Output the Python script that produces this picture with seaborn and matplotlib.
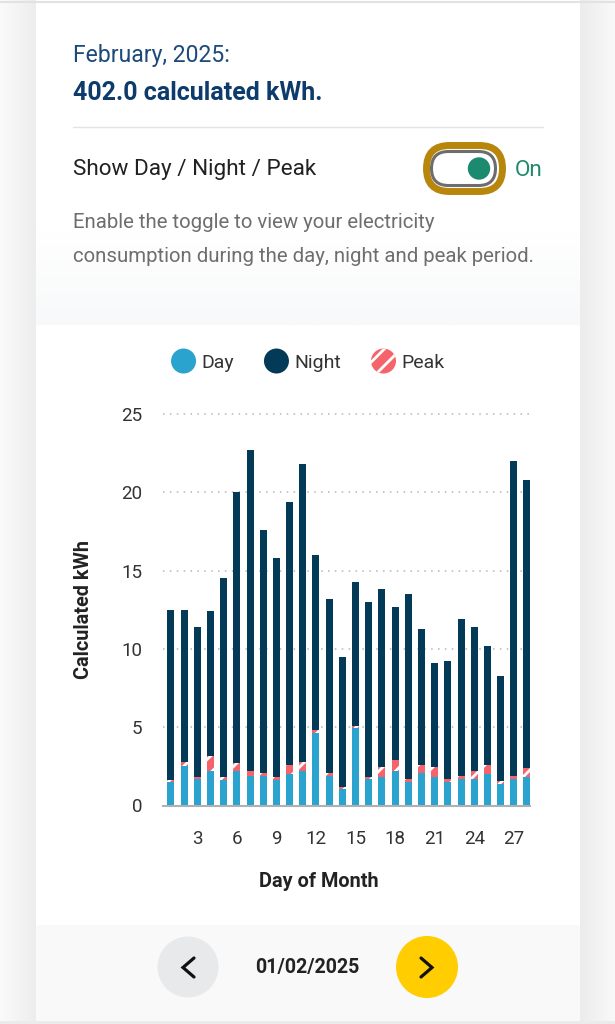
import numpy as np
import pandas as pd
import matplotlib.pyplot as plt
import matplotlib.patches as mpatches
from matplotlib.legend_handler import HandlerPatch
import seaborn as sns

# values (kWh per day, February 2025)
days = list(range(1, 29))
day_kwh = [1.5, 2.55, 1.7, 2.2, 1.6, 2.2, 1.9, 1.9, 1.6, 2.0, 2.2, 4.65, 1.9, 1.05,
           4.95, 1.7, 1.85, 2.2, 1.5, 2.1, 1.85, 1.5, 1.7, 1.7, 2.0, 1.4, 1.7, 1.8]
peak_kwh = [0.15, 0.2, 0.1, 0.95, 0.2, 0.5, 0.3, 0.2, 0.2, 0.6, 0.6, 0.2, 0.2, 0.1,
            0.1, 0.1, 0.6, 0.7, 0.2, 0.5, 0.6, 0.2, 0.2, 0.5, 0.6, 0.15, 0.2, 0.6]
night_kwh = [10.85, 9.75, 9.6, 9.25, 12.7, 17.3, 20.5, 15.5, 14.0, 16.8, 19.0, 11.15, 11.1, 8.35,
             9.25, 11.2, 11.35, 9.8, 11.8, 8.7, 6.65, 7.5, 10.0, 9.2, 7.6, 6.75, 20.1, 18.4]
tick_days = [3, 6, 9, 12, 15, 18, 21, 24, 27]
y_ticks = [0, 5, 10, 15, 20, 25]

DAY_C = '#2aa3cf'
NIGHT_C = '#023a58'
PEAK_C = '#f5636b'

sns.set_style('white')
plt.rcParams['font.family'] = ['Roboto', 'DejaVu Sans']
plt.rcParams['hatch.color'] = 'white'
plt.rcParams['hatch.linewidth'] = 2.0

df = pd.DataFrame({'day': days, 'Day': day_kwh, 'Peak': peak_kwh, 'Night': night_kwh})
df['day_peak'] = df['Day'] + df['Peak']
df['total'] = df['day_peak'] + df['Night']

fig = plt.figure(figsize=(6.15, 10.24), dpi=100, facecolor='white')

# page background drawn in pixel coordinates
bg = fig.add_axes([0, 0, 1, 1], zorder=0)
bg.axis('off')

def hgrad(x0, x1, y0, y1, c0, c1):
    c0 = np.array(plt.matplotlib.colors.to_rgb(c0))
    c1 = np.array(plt.matplotlib.colors.to_rgb(c1))
    t = np.linspace(0, 1, 64)[None, :, None]
    bg.imshow(c0 + (c1 - c0) * t, extent=(x0, x1, y1, y0), aspect='auto', interpolation='bilinear')

def vgrad(x0, x1, y0, y1, c0, c1):
    c0 = np.array(plt.matplotlib.colors.to_rgb(c0))
    c1 = np.array(plt.matplotlib.colors.to_rgb(c1))
    t = np.linspace(0, 1, 64)[:, None, None]
    bg.imshow(c0 + (c1 - c0) * t, extent=(x0, x1, y1, y0), aspect='auto', interpolation='bilinear')

hgrad(0, 36, 0, 1024, '#fbfbfb', '#ededed')
hgrad(580, 615, 0, 1024, '#ececec', '#f9f9f9')
vgrad(36, 580, 230, 325, '#ffffff', '#f8f9fa')
bg.add_patch(mpatches.Rectangle((36, 925), 544, 96, color='#f9f9fa', lw=0))
bg.add_patch(mpatches.Rectangle((0, 1021), 615, 3, color='#ebebeb', lw=0))
bg.plot([0, 615], [1.5, 1.5], color='#e2e2e2', lw=1.5)

# header
bg.text(73, 62, 'February, 2025:', fontsize=16.6, color='#1c4a7b', va='baseline')
bg.text(73, 100.5, '402.0 calculated kWh.', fontsize=18, fontweight='bold',
        color='#0c3b6c', va='baseline')
bg.plot([73, 543], [127, 127], color='#e3e3e3', lw=1)
bg.text(73, 175.5, 'Show Day / Night / Peak', fontsize=16.2, color='#212121', va='baseline')
bg.add_patch(mpatches.FancyBboxPatch((426.5, 145.5), 76, 46, boxstyle='round,pad=0,rounding_size=23',
                                     fc='none', ec='#b8860b', lw=5))
bg.add_patch(mpatches.FancyBboxPatch((431.5, 151.5), 64, 34, boxstyle='round,pad=0,rounding_size=17',
                                     fc='white', ec='#6d6d6d', lw=2.2))
bg.add_patch(mpatches.Circle((479, 168.5), 11.2, color='#1b8a6e', lw=0))
bg.text(515, 175.5, 'On', fontsize=16.2, color='#1e8a6a', va='baseline')
bg.text(73, 227.5, 'Enable the toggle to view your electricity', fontsize=14.65,
        color='#6e6e6e', va='baseline')
bg.text(73, 261.5, 'consumption during the day, night and peak period.', fontsize=14.65,
        color='#6e6e6e', va='baseline')

# month navigation
bg.add_patch(mpatches.Circle((188, 967), 30.5, color='#e8e9eb', lw=0))
bg.add_patch(mpatches.Circle((427, 967), 31, color='#ffcd00', lw=0))
bg.plot([194, 183, 194], [958, 967.5, 977], color='#111111', lw=2.3,
        solid_capstyle='round', solid_joinstyle='miter')
bg.plot([421, 432, 421], [958, 967.5, 977], color='#111111', lw=2.3,
        solid_capstyle='round', solid_joinstyle='miter')
bg.text(307.5, 967, '01/02/2025', ha='center', va='center', fontsize=14.1,
        fontweight='bold', color='#222222')

bg.set_xlim(0, 615)
bg.set_ylim(1024, 0)

# chart
ax = fig.add_axes([163 / 615, 1 - 805.5 / 1024, 367 / 615, 392.3 / 1024], zorder=1)
ax.patch.set_alpha(0)

sns.barplot(data=df, x='day', y='total', color=NIGHT_C, saturation=1, width=0.53,
            linewidth=0, errorbar=None, ax=ax)
sns.barplot(data=df, x='day', y='day_peak', color=PEAK_C, saturation=1, width=0.53,
            hatch='//', edgecolor='white', linewidth=0, errorbar=None, ax=ax)
sns.barplot(data=df, x='day', y='Day', color=DAY_C, saturation=1, width=0.53,
            linewidth=0, errorbar=None, ax=ax)

ax.set_xlim(-0.6, 27.23)
ax.set_ylim(0, 25.05)
ax.set_yticks(y_ticks)
ax.set_xticks([d - 1 for d in tick_days])
ax.set_xticklabels([str(d) for d in tick_days])
ax.tick_params(axis='both', length=0, labelsize=13.5, labelcolor='#333333')
ax.tick_params(axis='y', pad=15)
ax.tick_params(axis='x', pad=18)
ax.yaxis.grid(True, color='#b5b5b5', linestyle=(0, (1, 3.5)), linewidth=1.1)
ax.set_axisbelow(True)
for s in ['top', 'right', 'left']:
    ax.spines[s].set_visible(False)
ax.spines['bottom'].set_color('#b0b0b0')
ax.spines['bottom'].set_linewidth(1.5)

ax.set_ylabel('Calculated kWh', fontsize=14.3, fontweight='bold', color='#222222')
ax.yaxis.set_label_coords(-0.19, 0.5)
ax.set_xlabel('Day of Month', fontsize=14.3, fontweight='bold', color='#222222')
ax.xaxis.set_label_coords(0.424, -0.17)


def circle_patch(legend, orig_handle, xdescent, ydescent, width, height, fontsize):
    return mpatches.Circle((width / 2 - xdescent, height / 2 - ydescent), radius=9.0)


handles = [mpatches.Patch(facecolor=DAY_C, linewidth=0, label='Day'),
           mpatches.Patch(facecolor=NIGHT_C, linewidth=0, label='Night'),
           mpatches.Patch(facecolor=PEAK_C, edgecolor='white', hatch='//', linewidth=0, label='Peak')]
fig.legend(handles=handles, loc='center', bbox_to_anchor=(308 / 615, 1 - 362 / 1024), ncol=3,
           frameon=False, fontsize=14, handlelength=1.25, handleheight=1.0, handletextpad=0.3,
           columnspacing=1.55, labelcolor='#333333',
           handler_map={mpatches.Patch: HandlerPatch(patch_func=circle_patch)})

fig.savefig('out.png', dpi=100, facecolor='white')
